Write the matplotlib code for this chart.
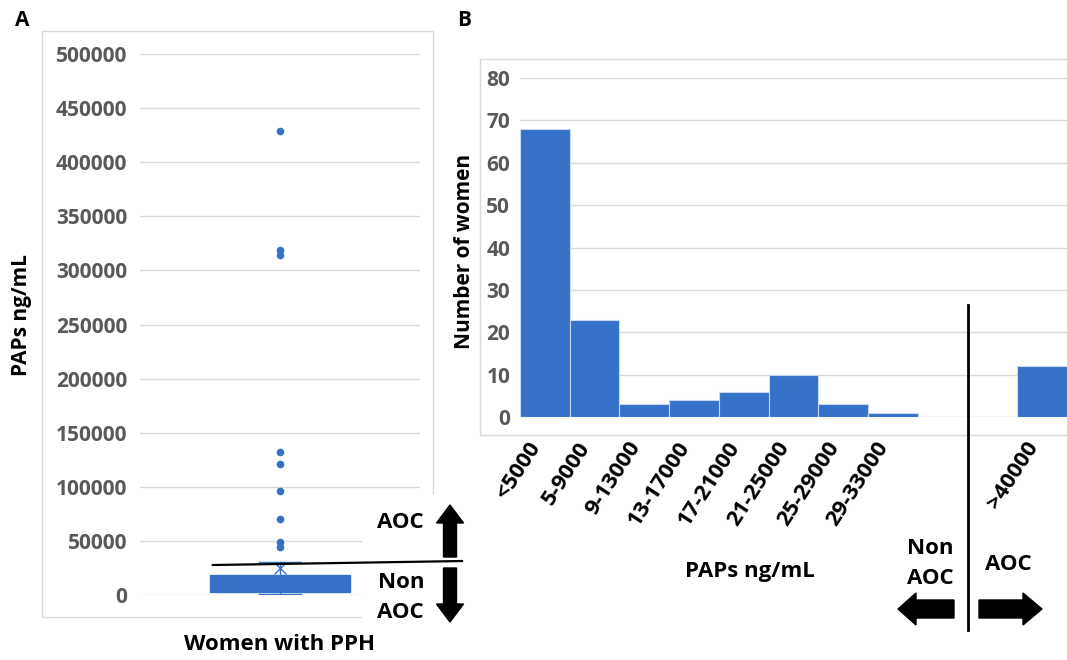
import matplotlib
matplotlib.use("Agg")
import matplotlib.pyplot as plt
from matplotlib.patches import Rectangle, FancyArrow
from matplotlib.transforms import Affine2D, ScaledTranslation

# === DATA ===
# panel A: box plot of PAPs (ng/mL) in women with PPH
box_q1 = 2500
box_median = 7000
box_q3 = 18500
box_whislo = 800
box_whishi = 30500
box_mean = 25000
box_outliers = [429000, 319000, 314000, 132000, 121000, 96000, 70000, 49000, 44000]
a_ticks = [0, 50000, 100000, 150000, 200000, 250000, 300000, 350000, 400000, 450000, 500000]
aoc_cut_a = [27700, 31400]  # hand drawn cut line, left / right end

# panel B: histogram of PAPs
bin_labels = ['<5000', '5-9000', '9-13000', '13-17000', '17-21000', '21-25000',
              '25-29000', '29-33000', '', '', '>40000']
bin_counts = [68, 23, 3, 4, 6, 10, 3, 1, 0, 0, 12]
b_ticks = [0, 10, 20, 30, 40, 50, 60, 70, 80]
aoc_cut_b = 8.5  # between the two empty bins

# === STYLE ===
BLUE = '#3571C7'
GRID = '#D9D9D9'
TICKC = '#595959'
FS = 15
plt.rcParams['font.family'] = ['Open Sans', 'DejaVu Sans']
plt.rcParams['font.weight'] = 'bold'

W, H = 1067, 660
fig = plt.figure(figsize=(W / 100, H / 100), dpi=100)
# pixel coords from the top-left corner
px = Affine2D().scale(1 / W, -1 / H).translate(0, 1) + fig.transFigure

# chart frames
fig.patches.append(Rectangle((42, 31), 391, 586, transform=px, fill=False,
                             ec=GRID, lw=1, zorder=-1))
fig.patches.append(Rectangle((480, 59), 700, 376, transform=px, fill=False,
                             ec=GRID, lw=1, zorder=-1))

# === PANEL A ===
axA = fig.add_axes([140 / W, 65 / H, 280 / W, 541 / H])
axA.set_facecolor('none')
stats = [dict(q1=box_q1, med=box_median, q3=box_q3, whislo=box_whislo,
              whishi=box_whishi, mean=box_mean, fliers=box_outliers)]
axA.bxp(stats, positions=[0.5], widths=0.5, capwidths=[0.15], patch_artist=True,
        showmeans=True,
        boxprops=dict(facecolor=BLUE, edgecolor=BLUE, lw=1),
        medianprops=dict(color=BLUE, lw=1),
        whiskerprops=dict(color=BLUE, lw=1),
        capprops=dict(color=BLUE, lw=1),
        meanprops=dict(marker='x', markeredgecolor=BLUE, markersize=8, mew=1),
        flierprops=dict(marker='o', markerfacecolor=BLUE, markeredgecolor=BLUE,
                        markersize=4.5))
axA.set_xlim(0, 1)
axA.set_ylim(0, 500000)
axA.set_yticks(a_ticks)
axA.set_yticklabels([str(t) for t in a_ticks])
axA.set_xticks([])
axA.grid(axis='y', color=GRID, lw=1)
axA.set_axisbelow(True)
axA.tick_params(axis='y', length=0, pad=9, labelsize=FS, labelcolor=TICKC)
for s in axA.spines.values():
    s.set_visible(False)

# white area behind the AOC arrows
axA.add_patch(Rectangle((362, 495), 115, 135, transform=px, fc='white', ec='none',
                        clip_on=False, zorder=5))
axA.plot([0.26, 1.15], aoc_cut_a, color='black', lw=1.6, clip_on=False, zorder=6,
         transform=axA.get_yaxis_transform())
axA.add_patch(FancyArrow(450, 557, 0, -52, width=13, head_width=27, head_length=18,
                         length_includes_head=True, transform=px, color='black',
                         clip_on=False, zorder=7))
axA.add_patch(FancyArrow(450, 568, 0, 54, width=13, head_width=27, head_length=18,
                         length_includes_head=True, transform=px, color='black',
                         clip_on=False, zorder=7))
axA.text(400, 523, 'AOC', transform=px, ha='center', va='center', fontsize=FS + 1,
         zorder=7)
axA.text(401, 582, 'Non', transform=px, ha='center', va='center', fontsize=FS + 1,
         zorder=7)
axA.text(400, 613, 'AOC', transform=px, ha='center', va='center', fontsize=FS + 1,
         zorder=7)

fig.text(22, 315, 'PAPs ng/mL', transform=px, rotation=90, ha='center',
         va='center', fontsize=FS)
fig.text(280, 645, 'Women with PPH', transform=px, ha='center', va='center',
         fontsize=FS + 1)
fig.text(22, 20, 'A', transform=px, ha='center', va='center', fontsize=FS)

# === PANEL B ===
axB = fig.add_axes([520 / W, 243 / H, 547 / W, 339 / H])
axB.set_facecolor('none')
xs = list(range(len(bin_counts)))
axB.bar(xs, bin_counts, width=1.0, color=BLUE, edgecolor='#C9D8F1', lw=0.8)
axB.set_xlim(-0.5, len(bin_counts) - 0.5)
axB.set_ylim(0, 80)
axB.set_yticks(b_ticks)
axB.set_yticklabels([str(t) for t in b_ticks])
axB.set_xticks(xs)
axB.set_xticklabels(bin_labels, rotation=57, ha='right', fontsize=FS + 1)
shift = ScaledTranslation(10 / 100, 0, fig.dpi_scale_trans)
for lab in axB.get_xticklabels():
    lab.set_transform(lab.get_transform() + shift)
axB.grid(axis='y', color=GRID, lw=1)
axB.set_axisbelow(True)
axB.tick_params(axis='y', length=0, pad=7, labelsize=FS, labelcolor=TICKC)
axB.tick_params(axis='x', length=0, pad=15)
for s in axB.spines.values():
    s.set_visible(False)

axB.plot([aoc_cut_b, aoc_cut_b], [26.4, -50.3], color='black', lw=2, clip_on=False,
         zorder=6)
axB.add_patch(FancyArrow(954, 609, -56, 0, width=18, head_width=32, head_length=18,
                         length_includes_head=True, transform=px, color='black',
                         clip_on=False, zorder=7))
axB.add_patch(FancyArrow(979, 609, 63, 0, width=18, head_width=32, head_length=19,
                         length_includes_head=True, transform=px, color='black',
                         clip_on=False, zorder=7))
axB.text(930, 548, 'Non', transform=px, ha='center', va='center', fontsize=FS + 1)
axB.text(930, 578, 'AOC', transform=px, ha='center', va='center', fontsize=FS + 1)
axB.text(1008, 565, 'AOC', transform=px, ha='center', va='center', fontsize=FS + 1)

fig.text(465, 251, 'Number of women', transform=px, rotation=90, ha='center',
         va='center', fontsize=FS)
fig.text(750, 572, 'PAPs ng/mL', transform=px, ha='center', va='center',
         fontsize=FS + 1)
fig.text(464, 20, 'B', transform=px, ha='center', va='center', fontsize=FS)

fig.savefig('out.png', dpi=100)
